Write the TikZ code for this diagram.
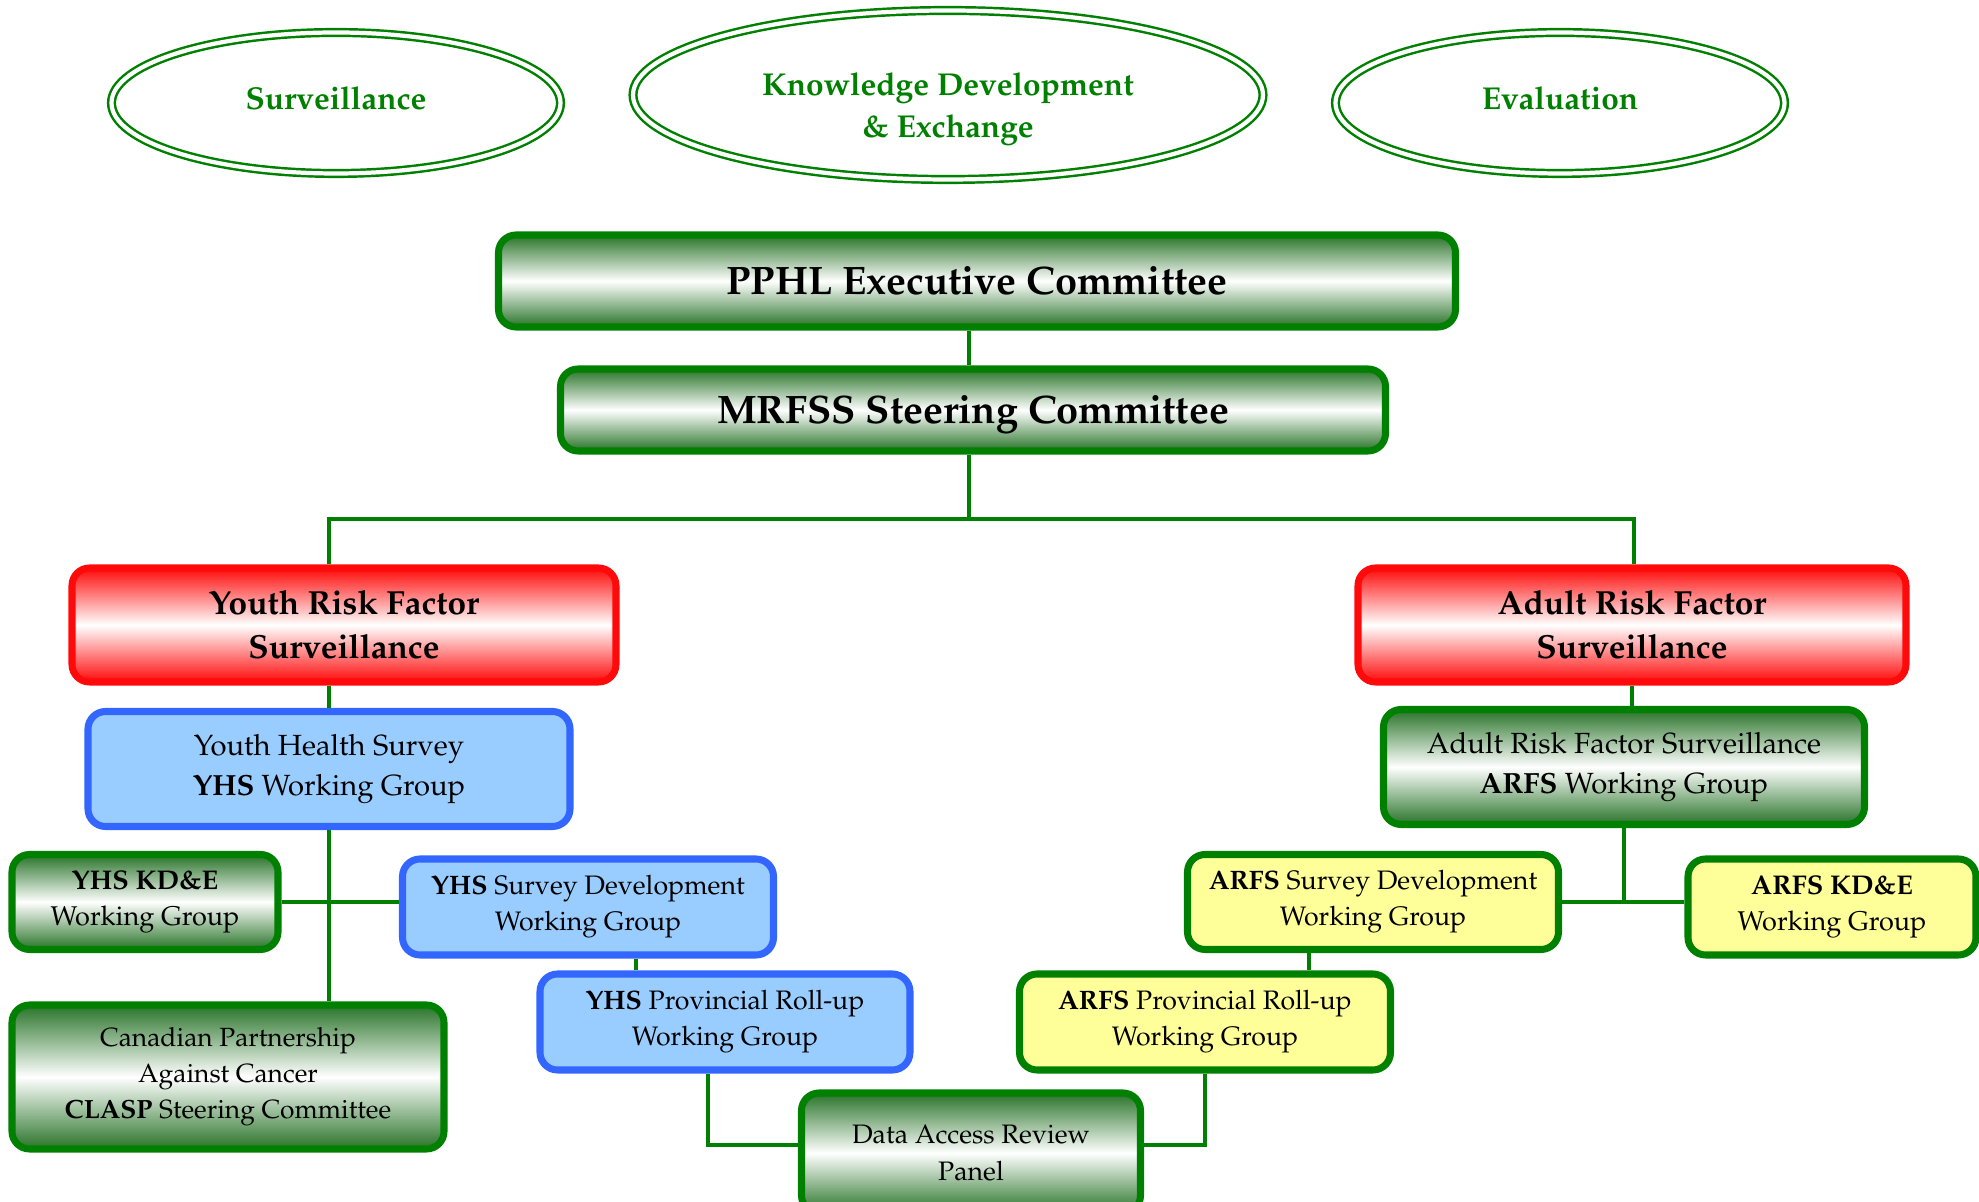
\documentclass[tikz,border=0pt]{standalone}
\usepackage[T1]{fontenc}
\usepackage{mathpazo}
\usepackage{tikz}
\usetikzlibrary{positioning}
\usetikzlibrary{shapes.geometric}

\definecolor{linegreen}{RGB}{0,128,0}
\definecolor{shadegreen}{RGB}{40,115,40}
\definecolor{boxred}{RGB}{255,10,10}
\definecolor{boxblue}{RGB}{51,102,255}
\definecolor{fillblue}{RGB}{153,204,255}
\definecolor{fillyellow}{RGB}{255,255,153}

\tikzset{
  box/.style={rectangle, rounded corners=5pt, line width=2pt, align=center, inner sep=0pt},
  greenbox/.style={box, draw=linegreen, top color=shadegreen, bottom color=shadegreen, middle color=white},
  redbox/.style={box, draw=boxred, top color=boxred, bottom color=boxred, middle color=white,
    font=\fontsize{9.5}{12.5}\selectfont\bfseries},
  bluebox/.style={box, draw=boxblue, fill=fillblue},
  yellowbox/.style={box, draw=linegreen, fill=fillyellow},
  titlebox/.style={greenbox, text depth=0pt, font=\fontsize{11.3}{13}\selectfont\bfseries},
  bigtext/.style={font=\fontsize{8.3}{11.2}\selectfont},
  smalltext/.style={font=\fontsize{7.6}{10.3}\selectfont},
  oval/.style={ellipse, draw=linegreen, double=white, double distance=1.2pt, line width=0.7pt, inner sep=0pt},
  ovaltext/.style={text=linegreen, align=center, inner sep=0pt, font=\fontsize{9}{11.8}\selectfont\bfseries},
  link/.style={draw=linegreen, line width=1.4pt}
}

\begin{document}
\begin{tikzpicture}
\useasboundingbox (0,0) rectangle (19.79,-12.02);

% top ovals
\node[oval, minimum width=4.49cm, minimum height=1.41cm] (surv) at (3.36,-1.03) {};
\node[ovaltext] (survtext) at ([yshift=0.05cm]surv.center) {Surveillance};
\node[oval, minimum width=6.30cm, minimum height=1.69cm] (kde) at (9.48,-0.95) {};
\node[ovaltext] (kdetext) at ([yshift=-0.14cm]kde.center) {Knowledge Development\\\& Exchange};
\node[oval, minimum width=4.49cm, minimum height=1.41cm] (eval) at (15.60,-1.03) {};
\node[ovaltext] (evaltext) at ([yshift=0.05cm]eval.center) {Evaluation};

% committees
\node[titlebox, minimum width=9.57cm, minimum height=0.92cm] (pphl) at (9.77,-2.81) {PPHL Executive Committee};
\node[titlebox, minimum width=8.25cm, minimum height=0.82cm] (mrfss) at (9.73,-4.10) {MRFSS Steering Committee};

% youth side
\node[redbox, minimum width=5.44cm, minimum height=1.14cm] (yrf) at (3.44,-6.25) {Youth Risk Factor\\Surveillance};
\node[bluebox, bigtext, minimum width=4.82cm, minimum height=1.15cm] (yhs) at (3.29,-7.69)
  {Youth Health Survey\\\textbf{YHS} Working Group};
\node[greenbox, font=\fontsize{7.7}{10.4}\selectfont, minimum width=2.66cm, minimum height=0.95cm] (ykde) at (1.45,-9.02)
  {\textbf{YHS KD\&E}\\Working Group};
\node[bluebox, smalltext, minimum width=3.71cm, minimum height=0.96cm] (ysd) at (5.88,-9.07)
  {\textbf{YHS} Survey Development\\Working Group};
\node[greenbox, font=\fontsize{7.5}{10.2}\selectfont, minimum width=4.32cm, minimum height=1.44cm] (clasp) at (2.28,-10.77)
  {Canadian Partnership\\Against Cancer\\\textbf{CLASP} Steering Committee};
\node[bluebox, smalltext, minimum width=3.70cm, minimum height=0.96cm] (yprov) at (7.25,-10.22)
  {\textbf{YHS} Provincial Roll-up\\Working Group};

% adult side
\node[redbox, minimum width=5.48cm, minimum height=1.14cm] (arf) at (16.32,-6.25) {Adult Risk Factor\\Surveillance};
\node[greenbox, bigtext, minimum width=4.81cm, minimum height=1.15cm] (awg) at (16.24,-7.67)
  {Adult Risk Factor Surveillance\\\textbf{ARFS} Working Group};
\node[yellowbox, smalltext, minimum width=3.71cm, minimum height=0.95cm] (asd) at (13.73,-9.02)
  {\textbf{ARFS} Survey Development\\Working Group};
\node[yellowbox, font=\fontsize{7.7}{10.4}\selectfont, minimum width=2.88cm, minimum height=0.96cm] (akde) at (18.32,-9.07)
  {\textbf{ARFS KD\&E}\\Working Group};
\node[yellowbox, smalltext, minimum width=3.71cm, minimum height=0.96cm] (aprov) at (12.05,-10.22)
  {\textbf{ARFS} Provincial Roll-up\\Working Group};

% shared panel
\node[greenbox, smalltext, minimum width=3.39cm, minimum height=1.20cm] (dar) at (9.71,-11.53)
  {Data Access Review\\Panel};

% connectors
\coordinate (hub) at (9.69,-5.19);
\coordinate (hubL) at (3.29,-5.19);
\coordinate (hubR) at (16.34,-5.19);
\coordinate (ysdout) at (6.36,-9.60);
\coordinate (yprovout) at (7.08,-10.70);
\coordinate (asdout) at (13.09,-9.60);
\coordinate (darin) at (9.71,-11.45);

\draw[link] (pphl.south -| hub) -- (mrfss.north -| hub);
\draw[link] (mrfss.south -| hub) -- (hub);
\draw[link] (yrf.north -| hubL) -- (hubL) -- (hubR) -- (arf.north -| hubR);
\draw[link] (yrf.south -| yhs.north) -- (yhs.north);
\draw[link] (yhs.south) -- (yhs.south |- clasp.north);
\draw[link] (ykde.east) -- (ykde.east -| ysd.west);
\draw[link] (ysd.south -| ysdout) -- (yprov.north -| ysdout);
\draw[link] (yprov.south -| yprovout) |- (dar.west |- darin);
\draw[link] (aprov.south) |- (dar.east |- darin);
\draw[link] (arf.south) -- (arf.south |- awg.north);
\draw[link] (awg.south) -- (awg.south |- asd.east);
\draw[link] (asd.east) -- (asd.east -| akde.west);
\draw[link] (asd.south -| asdout) -- (aprov.north -| asdout);
\end{tikzpicture}
\end{document}
